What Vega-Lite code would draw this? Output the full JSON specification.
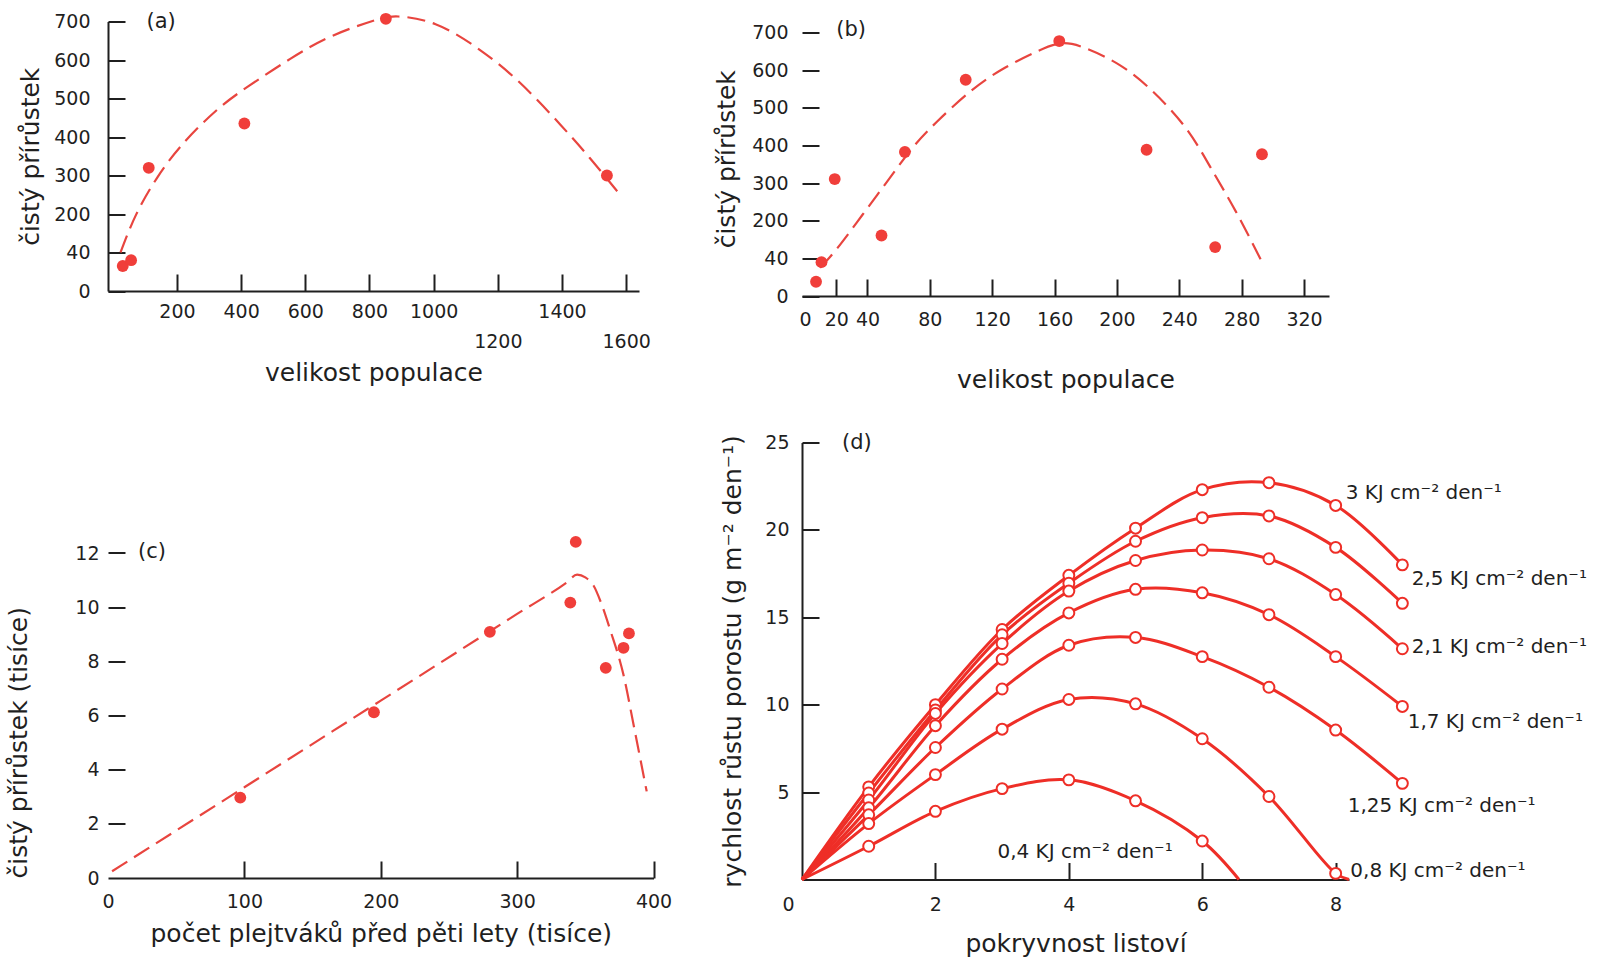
{
  "$schema": "https://vega.github.io/schema/vega-lite/v6.json",
  "background": "white",
  "padding": {"left": 6, "top": 10.5, "right": 5, "bottom": 5},
  "config": {
    "font": "DejaVu Sans",
    "view": {"stroke": null},
    "axis": {
      "grid": false, "ticks": true,
      "domainColor": "#1f1f1f", "domainWidth": 2,
      "tickColor": "#1f1f1f", "tickWidth": 2, "tickSize": -17,
      "labelPadding": 27, "labelColor": "#1f1f1f", "labelFontSize": 19,
      "labelFlush": false, "labelOverlap": false, "labelSeparation": 0,
      "titleColor": "#1f1f1f", "titleFontSize": 25, "titleFontWeight": "normal"
    }
  },
  "datasets": {
    "aCurve": [
      {"x": 24, "y": 100}, {"x": 73, "y": 199}, {"x": 138, "y": 294}, {"x": 216, "y": 380},
      {"x": 320, "y": 467}, {"x": 423, "y": 532}, {"x": 553, "y": 603}, {"x": 682, "y": 662},
      {"x": 812, "y": 702}, {"x": 890, "y": 713}, {"x": 1006, "y": 693}, {"x": 1136, "y": 631},
      {"x": 1265, "y": 544}, {"x": 1395, "y": 432}, {"x": 1486, "y": 346}, {"x": 1576, "y": 255}
    ],
    "aPts": [
      {"x": 31, "y": 65}, {"x": 57, "y": 80}, {"x": 112, "y": 320},
      {"x": 410, "y": 435}, {"x": 851, "y": 707}, {"x": 1540, "y": 300}
    ],
    "bCurve": [
      {"x": 9.6, "y": 75}, {"x": 20.8, "y": 128}, {"x": 36.8, "y": 216}, {"x": 52.7, "y": 305},
      {"x": 68.7, "y": 393}, {"x": 84.7, "y": 464}, {"x": 106, "y": 544}, {"x": 127.3, "y": 605},
      {"x": 148.5, "y": 650}, {"x": 164.5, "y": 672}, {"x": 180.5, "y": 658}, {"x": 201.8, "y": 614},
      {"x": 223, "y": 544}, {"x": 244.3, "y": 446}, {"x": 260.3, "y": 340}, {"x": 276.2, "y": 225},
      {"x": 292.2, "y": 97}
    ],
    "bPts": [
      {"x": 7, "y": 38}, {"x": 10.5, "y": 90}, {"x": 19, "y": 311}, {"x": 49, "y": 161},
      {"x": 64, "y": 383}, {"x": 103, "y": 575}, {"x": 163, "y": 678}, {"x": 219, "y": 389},
      {"x": 263, "y": 130}, {"x": 293, "y": 377}
    ],
    "cCurve": [
      {"x": 3, "y": 0.25}, {"x": 100, "y": 3.35}, {"x": 200, "y": 6.55}, {"x": 300, "y": 9.75},
      {"x": 336, "y": 10.9}, {"x": 344, "y": 11.2}, {"x": 350, "y": 11.1}, {"x": 356, "y": 10.8},
      {"x": 362, "y": 10.1}, {"x": 368, "y": 9.2}, {"x": 378, "y": 7.5}, {"x": 386, "y": 5.5},
      {"x": 395, "y": 3.2}
    ],
    "cPts": [
      {"x": 97, "y": 2.97}, {"x": 195, "y": 6.12}, {"x": 280, "y": 9.09}, {"x": 339, "y": 10.17},
      {"x": 343, "y": 12.41}, {"x": 365, "y": 7.76}, {"x": 378, "y": 8.5}, {"x": 382, "y": 9.03}
    ],
    "d": [
      {"s": "3", "x": 0, "y": 0}, {"s": "3", "x": 1, "y": 5.3}, {"s": "3", "x": 2, "y": 10.0}, {"s": "3", "x": 3, "y": 14.3}, {"s": "3", "x": 4, "y": 17.4}, {"s": "3", "x": 5, "y": 20.1}, {"s": "3", "x": 6, "y": 22.3}, {"s": "3", "x": 7, "y": 22.7}, {"s": "3", "x": 8, "y": 21.4}, {"s": "3", "x": 9, "y": 18.0},
      {"s": "2.5", "x": 0, "y": 0}, {"s": "2.5", "x": 1, "y": 4.95}, {"s": "2.5", "x": 2, "y": 9.7}, {"s": "2.5", "x": 3, "y": 14.0}, {"s": "2.5", "x": 4, "y": 16.95}, {"s": "2.5", "x": 5, "y": 19.35}, {"s": "2.5", "x": 6, "y": 20.7}, {"s": "2.5", "x": 7, "y": 20.8}, {"s": "2.5", "x": 8, "y": 19.0}, {"s": "2.5", "x": 9, "y": 15.8},
      {"s": "2.1", "x": 0, "y": 0}, {"s": "2.1", "x": 1, "y": 4.55}, {"s": "2.1", "x": 2, "y": 9.5}, {"s": "2.1", "x": 3, "y": 13.5}, {"s": "2.1", "x": 4, "y": 16.5}, {"s": "2.1", "x": 5, "y": 18.25}, {"s": "2.1", "x": 6, "y": 18.85}, {"s": "2.1", "x": 7, "y": 18.35}, {"s": "2.1", "x": 8, "y": 16.3}, {"s": "2.1", "x": 9, "y": 13.2},
      {"s": "1.7", "x": 0, "y": 0}, {"s": "1.7", "x": 1, "y": 4.1}, {"s": "1.7", "x": 2, "y": 8.8}, {"s": "1.7", "x": 3, "y": 12.6}, {"s": "1.7", "x": 4, "y": 15.25}, {"s": "1.7", "x": 5, "y": 16.6}, {"s": "1.7", "x": 6, "y": 16.4}, {"s": "1.7", "x": 7, "y": 15.15}, {"s": "1.7", "x": 8, "y": 12.75}, {"s": "1.7", "x": 9, "y": 9.9},
      {"s": "1.25", "x": 0, "y": 0}, {"s": "1.25", "x": 1, "y": 3.7}, {"s": "1.25", "x": 2, "y": 7.55}, {"s": "1.25", "x": 3, "y": 10.9}, {"s": "1.25", "x": 4, "y": 13.4}, {"s": "1.25", "x": 5, "y": 13.85}, {"s": "1.25", "x": 6, "y": 12.75}, {"s": "1.25", "x": 7, "y": 11.0}, {"s": "1.25", "x": 8, "y": 8.55}, {"s": "1.25", "x": 9, "y": 5.5},
      {"s": "0.8", "x": 0, "y": 0}, {"s": "0.8", "x": 1, "y": 3.2}, {"s": "0.8", "x": 2, "y": 6.0}, {"s": "0.8", "x": 3, "y": 8.6}, {"s": "0.8", "x": 4, "y": 10.3}, {"s": "0.8", "x": 5, "y": 10.05}, {"s": "0.8", "x": 6, "y": 8.05}, {"s": "0.8", "x": 7, "y": 4.75}, {"s": "0.8", "x": 8, "y": 0.35}, {"s": "0.8", "x": 8.2, "y": 0},
      {"s": "0.4", "x": 0, "y": 0}, {"s": "0.4", "x": 1, "y": 1.9}, {"s": "0.4", "x": 2, "y": 3.9}, {"s": "0.4", "x": 3, "y": 5.2}, {"s": "0.4", "x": 4, "y": 5.7}, {"s": "0.4", "x": 5, "y": 4.5}, {"s": "0.4", "x": 6, "y": 2.2}, {"s": "0.4", "x": 6.55, "y": 0}
    ],
    "dLabels": [
      {"label": "3 KJ cm⁻² den⁻¹", "x": 8.15, "y": 22.1},
      {"label": "2,5 KJ cm⁻² den⁻¹", "x": 9.14, "y": 17.2},
      {"label": "2,1 KJ cm⁻² den⁻¹", "x": 9.14, "y": 13.3},
      {"label": "1,7 KJ cm⁻² den⁻¹", "x": 9.08, "y": 9.0},
      {"label": "1,25 KJ cm⁻² den⁻¹", "x": 8.18, "y": 4.2},
      {"label": "0,8 KJ cm⁻² den⁻¹", "x": 8.22, "y": 0.5},
      {"label": "0,4 KJ cm⁻² den⁻¹", "x": 2.93, "y": 1.56}
    ]
  },
  "columns": 2,
  "bounds": "flush",
  "align": "each",
  "spacing": {"row": 146, "column": 148},
  "concat": [
    {
      "width": 531, "height": 269.5,
      "encoding": {
        "x": {"field": "x", "type": "quantitative", "scale": {"domain": [-15, 1640], "nice": false, "zero": false},
          "axis": {"values": [200, 400, 600, 800, 1000, 1200, 1400, 1600], "format": "d", "title": "velikost populace",
            "labelOverlap": false, "ticks": true, "tickSize": -17,
            "labelPadding": {"condition": {"test": "datum.value == 1200 || datum.value == 1600", "value": 58}, "value": 28.5},
            "titlePadding": 9}},
        "y": {"field": "y", "type": "quantitative", "scale": {"domain": [0, 700], "nice": false},
          "axis": {"values": [0, 100, 200, 300, 400, 500, 600, 700], "labelExpr": "datum.value == 100 ? '40' : datum.label",
            "labelOverlap": false, "ticks": true, "tickSize": -17, "title": "čistý přírůstek", "labelPadding": 35, "titlePadding": 10}}
      },
      "layer": [
        {
          "data": {"name": "aCurve"},
          "mark": {"type": "line", "interpolate": "natural", "color": "#e8453f", "strokeWidth": 2.2, "strokeDash": [18, 8]}
        },
        {
          "data": {"name": "aPts"},
          "mark": {"type": "circle", "size": 140, "color": "#f03e3a", "opacity": 1}
        },
        {
          "data": {"values": [{"label": "(a)", "x": 105, "y": 700}]},
          "mark": {"type": "text", "align": "left", "baseline": "middle", "fontSize": 21, "color": "#1f1f1f"},
          "encoding": {"text": {"field": "label"}}
        }
      ]
    },
    {
      "width": 527, "height": 274.5,
      "encoding": {
        "x": {"field": "x", "type": "quantitative", "scale": {"domain": [-2, 336], "nice": false, "zero": false},
          "axis": {"values": [0, 20, 40, 80, 120, 160, 200, 240, 280, 320], "format": "d", "title": "velikost populace",
            "labelOverlap": false, "ticks": true, "tickSize": -17, "labelPadding": 31.5,
            "tickOpacity": {"condition": {"test": "datum.value == 0", "value": 0}, "value": 1},
            "titlePadding": 38}},
        "y": {"field": "y", "type": "quantitative", "scale": {"domain": [0, 730], "nice": false},
          "axis": {"values": [0, 100, 200, 300, 400, 500, 600, 700], "labelExpr": "datum.value == 100 ? '40' : datum.label",
            "labelOverlap": false, "ticks": true, "tickSize": -17, "domain": false, "title": "čistý přírůstek", "labelPadding": 31, "titlePadding": 12}}
      },
      "layer": [
        {
          "data": {"name": "bCurve"},
          "mark": {"type": "line", "interpolate": "natural", "color": "#e8453f", "strokeWidth": 2.2, "strokeDash": [18, 8]}
        },
        {
          "data": {"values": [{}]},
          "mark": {"type": "rule", "color": "#1f1f1f", "strokeWidth": 2},
          "encoding": {"x": {"datum": -2, "type": "quantitative"}, "y": {"datum": 0, "type": "quantitative"}, "y2": {"datum": 700}}
        },
        {
          "data": {"name": "bPts"},
          "mark": {"type": "circle", "size": 140, "color": "#f03e3a", "opacity": 1}
        },
        {
          "data": {"values": [{"label": "(b)", "x": 20, "y": 707}]},
          "mark": {"type": "text", "align": "left", "baseline": "middle", "fontSize": 21, "color": "#1f1f1f"},
          "encoding": {"text": {"field": "label"}}
        }
      ]
    },
    {
      "width": 545.5, "height": 435.5,
      "encoding": {
        "x": {"field": "x", "type": "quantitative", "scale": {"domain": [0, 400], "nice": false},
          "axis": {"values": [0, 100, 200, 300, 400], "format": "d", "title": "počet plejtváků před pěti lety (tisíce)",
            "labelOverlap": false, "ticks": true, "tickSize": -17, "labelPadding": 31,
            "tickOpacity": {"condition": {"test": "datum.value == 0", "value": 0}, "value": 1},
            "titlePadding": 10}},
        "y": {"field": "y", "type": "quantitative", "scale": {"domain": [0, 16.08], "nice": false},
          "axis": {"values": [0, 2, 4, 6, 8, 10, 12], "format": "d", "domain": false, "title": "čistý přírůstek (tisíce)",
            "labelOverlap": false, "ticks": true, "tickSize": -17,
            "tickOpacity": {"condition": {"test": "datum.value == 0", "value": 0}, "value": 1},
            "titleAnchor": "start", "labelPadding": 26, "titlePadding": 43}}
      },
      "layer": [
        {
          "data": {"name": "cCurve"},
          "mark": {"type": "line", "interpolate": "monotone", "color": "#e8453f", "strokeWidth": 2.2, "strokeDash": [18, 8]}
        },
        {
          "data": {"values": [{}]},
          "mark": {"type": "rule", "color": "#1f1f1f", "strokeWidth": 2},
          "encoding": {"x": {"datum": 0, "type": "quantitative"}, "y": {"datum": 0, "type": "quantitative"}, "y2": {"datum": 12}}
        },
        {
          "data": {"name": "cPts"},
          "mark": {"type": "circle", "size": 140, "color": "#f03e3a", "opacity": 1}
        },
        {
          "data": {"values": [{"label": "(c)", "x": 22, "y": 12.05}]},
          "mark": {"type": "text", "align": "left", "baseline": "middle", "fontSize": 21, "color": "#1f1f1f"},
          "encoding": {"text": {"field": "label"}}
        }
      ]
    },
    {
      "width": 547, "height": 437,
      "encoding": {
        "x": {"field": "x", "type": "quantitative", "scale": {"domain": [0, 8.2], "nice": false},
          "axis": {"values": [0, 2, 4, 6, 8], "format": "d", "title": "pokryvnost listoví",
            "labelOverlap": false, "ticks": true, "tickSize": -17, "labelPadding": 32.5,
            "labelOffset": {"condition": {"test": "datum.value == 0", "value": -14}, "value": 0},
            "tickOpacity": {"condition": {"test": "datum.value == 0", "value": 0}, "value": 1},
            "titlePadding": 17}},
        "y": {"field": "y", "type": "quantitative", "scale": {"domain": [0, 25], "nice": false},
          "axis": {"values": [5, 10, 15, 20, 25], "format": "d", "title": "rychlost růstu porostu (g m⁻² den⁻¹)",
            "labelOverlap": false, "ticks": true, "tickSize": -17, "labelPadding": 30, "titlePadding": 19}}
      },
      "layer": [
        {
          "data": {"name": "d"},
          "mark": {"type": "line", "interpolate": "catmull-rom", "color": "#ee2e27", "strokeWidth": 3},
          "encoding": {"detail": {"field": "s"}}
        },
        {
          "data": {"name": "d"},
          "transform": [{"filter": "datum.x > 0 && datum.x == floor(datum.x)"}],
          "mark": {"type": "point", "shape": "circle", "size": 120, "filled": true, "fill": "white", "stroke": "#ee2e27", "strokeWidth": 2, "opacity": 1}
        },
        {
          "data": {"name": "dLabels"},
          "mark": {"type": "text", "align": "left", "baseline": "middle", "fontSize": 20, "color": "#1f1f1f"},
          "encoding": {"text": {"field": "label"}}
        },
        {
          "data": {"values": [{"label": "(d)", "x": 0.6, "y": 24.95}]},
          "mark": {"type": "text", "align": "left", "baseline": "middle", "fontSize": 21, "color": "#1f1f1f"},
          "encoding": {"text": {"field": "label"}}
        }
      ]
    }
  ]
}
